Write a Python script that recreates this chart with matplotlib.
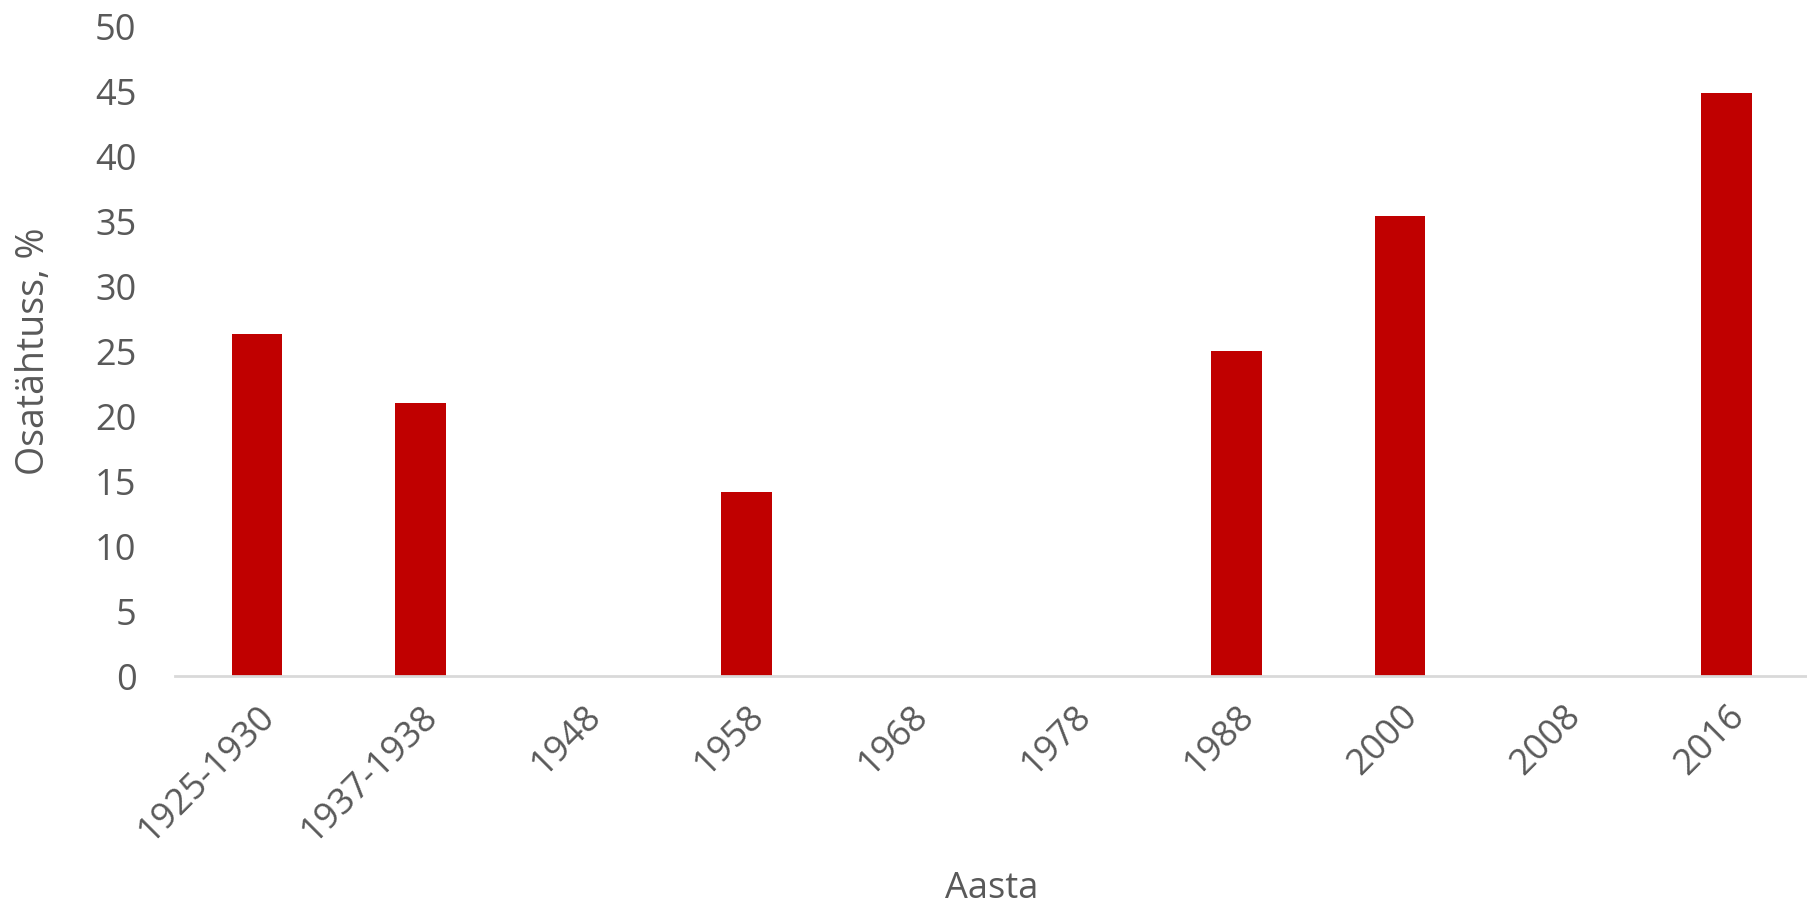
import numpy as np
import matplotlib
matplotlib.use("Agg")
import matplotlib.pyplot as plt

# andmed
aastad = ["1925-1930", "1937-1938", "1948", "1958", "1968",
          "1978", "1988", "2000", "2008", "2016"]
osatahtsus = [26.3, 21.0, np.nan, 14.2, np.nan,
              np.nan, 25.0, 35.4, np.nan, 44.9]
y_ticks = [0, 5, 10, 15, 20, 25, 30, 35, 40, 45, 50]

plt.rcParams['font.family'] = ['Open Sans', 'DejaVu Sans']

fig = plt.figure(figsize=(18.08, 9.10), dpi=100)
ax = fig.add_axes([0.097, 0.257, 0.903, 0.714])

x = np.arange(len(aastad))
ax.bar(x, osatahtsus, width=0.31, color="#C00000", linewidth=0)

ax.set_xlim(-0.5, len(aastad) - 0.5)
ax.set_ylim(0, 50)
ax.set_yticks(y_ticks)
ax.set_xticks(x)
ax.set_xticklabels(aastad, rotation=45, ha="right", rotation_mode="anchor")

for s in ["top", "right", "left"]:
    ax.spines[s].set_visible(False)
ax.spines["bottom"].set_color("#d9d9d9")
ax.spines["bottom"].set_linewidth(2)

ax.tick_params(axis="both", length=0, labelsize=26, labelcolor="#595959")
ax.tick_params(axis="y", pad=28)
ax.tick_params(axis="x", pad=16)

ax.set_xlabel("Aasta", fontsize=26, color="#595959", labelpad=16)
ax.set_ylabel("Osatähtuss, %", fontsize=27, color="#595959", labelpad=30)

fig.savefig("out.png", dpi=100)
